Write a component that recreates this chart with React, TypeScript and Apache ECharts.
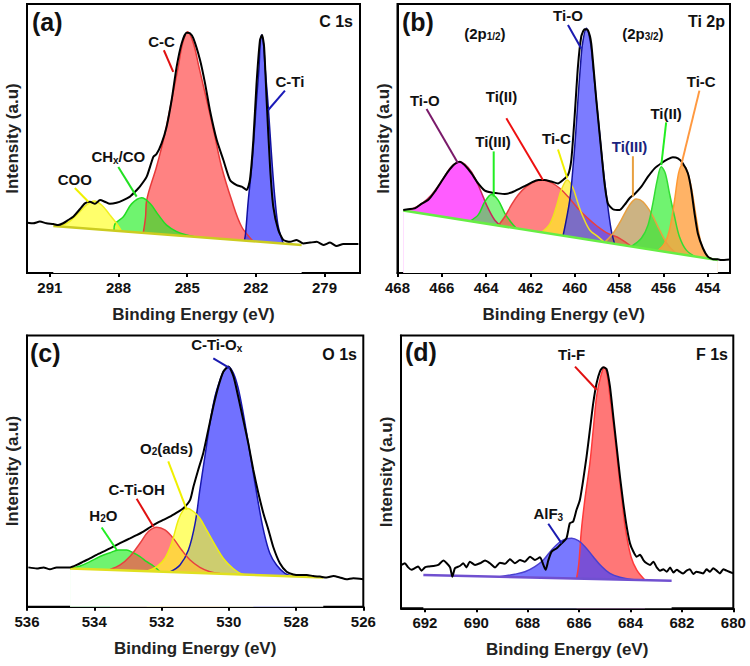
import React, { useEffect, useRef } from 'react';
import * as echarts from 'echarts';

type P = [number, number];
const FONT = '"Liberation Sans", Arial, sans-serif';

// ---------- Panel (a) C 1s ----------
const aEnvelope: P[] = [[291.98,18.7],[291.73,18.5],[291.44,19.1],[291.15,18.5],[290.85,18.2],[290.64,17.8],[290.42,18.5],[290.20,19.7],[289.98,20.9],[289.69,23.7],[289.47,25.9],[289.25,26.5],[289.03,25.7],[288.81,27.1],[288.60,26.5],[288.38,25.7],[288.09,26.1],[287.79,27.1],[287.50,28.4],[287.28,30.2],[287.07,32.1],[286.77,35.8],[286.48,43.2],[286.34,44.2],[286.12,48.2],[285.90,54.4],[285.68,64.3],[285.46,76.7],[285.24,85.4],[285.03,89.3],[284.88,89.1],[284.73,87.2],[284.44,79.2],[284.22,70.5],[284.01,60.6],[283.71,49.4],[283.42,42.0],[283.13,34.6],[282.84,32.7],[282.62,32.1],[282.40,30.9],[282.26,34.6],[282.11,49.4],[281.97,70.5],[281.82,86.6],[281.73,88.5],[281.64,84.1],[281.53,64.3],[281.38,39.5],[281.24,24.7],[281.02,16.0],[280.80,12.3],[280.51,11.6],[280.22,12.3],[279.93,11.0],[279.63,11.3],[279.34,11.6],[279.05,10.4],[278.76,11.3],[278.47,10.0],[278.18,10.8],[277.89,10.8],[277.52,10.8]];
const aBaseline: P[] = [[290.85,17.5],[280.0,10.4]];
const aCOO: P[] = [[290.78,17.5],[290.27,18.5],[289.83,21.6],[289.40,25.3],[289.06,26.8],[288.74,25.3],[288.38,21.6],[288.09,18.5],[287.87,15.6]];
const aCHx: P[] = [[288.2,15.9],[288.16,18.2],[287.79,20.9],[287.43,25.7],[286.99,28.0],[286.63,25.9],[286.26,21.6],[285.90,17.8],[285.46,15.4],[285.03,14.1],[284.7,13.5]];
const aCC: P[] = [[286.92,14.9],[286.82,20.9],[286.77,27.1],[286.34,39.5],[285.97,51.9],[285.68,64.3],[285.39,76.7],[285.20,85.4],[284.98,89.7],[284.73,85.4],[284.49,76.7],[284.15,64.3],[283.82,51.9],[283.50,39.5],[283.06,27.1],[282.62,17.2],[282.11,11.8]];
const aCTi: P[] = [[282.5,12.0],[282.45,14.7],[282.33,27.1],[282.18,39.5],[282.07,51.9],[281.97,64.3],[281.86,76.7],[281.81,85.4],[281.75,88.5],[281.67,85.4],[281.60,76.7],[281.48,64.3],[281.38,51.9],[281.28,39.5],[281.16,27.1],[281.02,17.2],[280.80,10.9]];

// ---------- Panel (b) Ti 2p ----------
const bEnvelope: P[] = [[467.74,23.4],[467.52,23.7],[467.22,24.0],[466.92,25.7],[466.62,27.1],[466.32,30.2],[466.02,34.0],[465.72,37.7],[465.42,40.5],[465.19,41.4],[464.97,40.1],[464.67,37.1],[464.36,33.3],[464.06,30.6],[463.76,29.9],[463.46,29.6],[463.16,29.4],[462.86,29.9],[462.56,31.1],[462.26,32.3],[461.96,33.6],[461.66,34.6],[461.36,34.6],[461.06,34.0],[460.76,33.3],[460.53,34.6],[460.31,36.4],[460.16,42.0],[460.01,58.1],[459.86,76.7],[459.71,87.9],[459.56,90.6],[459.41,90.3],[459.26,85.4],[459.03,64.3],[458.81,45.7],[458.66,33.3],[458.51,25.9],[458.28,23.7],[457.98,23.4],[457.76,25.3],[457.53,27.8],[457.30,29.4],[457.00,32.1],[456.70,35.8],[456.40,38.9],[456.10,40.8],[455.80,42.3],[455.58,43.0],[455.35,42.6],[455.13,40.8],[454.90,37.1],[454.75,31.1],[454.60,22.2],[454.45,14.7],[454.22,9.2],[454.00,6.1],[453.77,5.1],[453.55,5.1],[453.40,4.8],[453.02,5.0]];
const bBaseline: P[] = [[467.74,23.2],[453.55,4.8]];
const bTiO1: P[] = [[467.74,23.2],[467.37,23.7],[466.92,25.7],[466.47,29.0],[466.02,34.0],[465.64,38.9],[465.34,41.0],[465.19,41.4],[464.97,40.5],[464.67,37.7],[464.36,32.7],[464.14,28.4],[463.91,24.0],[463.6,19.5],[463.3,17.3]];
const bTi3a: P[] = [[464.74,19.3],[464.36,21.6],[464.06,26.5],[463.76,29.2],[463.46,27.1],[463.16,22.2],[462.86,18.7],[462.64,16.6]];
const bTi2a: P[] = [[463.46,17.6],[463.16,20.9],[462.86,25.3],[462.56,29.0],[462.19,32.1],[461.81,34.0],[461.44,34.6],[461.06,33.6],[460.68,31.5],[460.31,28.4],[459.86,24.0],[459.41,20.3],[458.96,17.2],[458.51,14.7],[457.98,12.9],[457.45,9.9]];
const bTiCa: P[] = [[461.51,15.1],[461.13,18.2],[460.83,24.7],[460.61,30.9],[460.34,34.6],[460.08,31.5],[459.86,25.9],[459.63,20.9],[459.33,16.0],[458.96,13.5],[458.66,11.4]];
const bTiO2: P[] = [[460.53,13.9],[460.23,27.1],[460.08,39.5],[459.96,51.9],[459.86,64.3],[459.75,76.7],[459.65,85.4],[459.48,91.0],[459.29,85.4],[459.18,76.7],[459.03,64.3],[458.88,51.9],[458.73,39.5],[458.55,27.1],[458.36,16.0],[458.21,10.9]];
const bTi3b: P[] = [[458.66,11.4],[458.28,14.7],[457.91,19.7],[457.53,25.3],[457.23,27.5],[456.93,26.5],[456.55,22.2],[456.18,16.0],[455.80,10.4],[455.43,7.3]];
const bTi2b: P[] = [[457.45,9.9],[457.00,12.9],[456.70,17.8],[456.48,25.9],[456.28,34.6],[456.10,39.5],[455.92,37.1],[455.73,29.6],[455.50,20.9],[455.28,13.5],[454.98,8.6],[454.60,6.2]];
const bTiCb: P[] = [[456.25,8.3],[455.95,11.0],[455.73,16.0],[455.50,27.1],[455.32,37.1],[455.17,40.1],[454.98,38.9],[454.75,32.1],[454.53,20.9],[454.30,11.0],[454.00,6.1],[453.55,4.8]];

// ---------- Panel (c) O 1s ----------
const cEnvelope: P[] = [[535.96,14.5],[535.71,14.1],[535.51,14.5],[535.32,13.8],[535.12,14.5],[534.92,14.5],[534.72,14.5],[534.52,15.4],[534.33,16.6],[534.13,17.8],[533.93,19.1],[533.73,20.3],[533.53,21.5],[533.33,22.8],[533.14,24.0],[532.94,25.2],[532.74,26.4],[532.54,27.7],[532.34,29.3],[532.14,30.8],[531.95,32.0],[531.75,33.2],[531.55,34.7],[531.35,36.3],[531.15,39.4],[531.05,44.3],[530.91,50.4],[530.76,56.6],[530.61,65.2],[530.46,73.8],[530.31,81.2],[530.16,86.7],[530.01,88.6],[529.86,84.9],[529.72,77.5],[529.57,68.9],[529.42,60.3],[529.27,50.4],[529.12,41.8],[528.97,34.4],[528.82,28.3],[528.68,22.1],[528.48,16.0],[528.28,12.9],[528.08,11.9],[527.88,11.7],[527.68,11.7],[527.49,11.3],[527.29,11.1],[527.09,10.8],[526.89,11.3],[526.70,10.8],[526.50,10.1],[526.30,10.5],[526.0,10.1]];
const cBaseline: P[] = [[534.72,14.1],[527.19,10.8]];
const cH2O: P[] = [[534.72,14.1],[534.42,15.0],[534.13,16.6],[533.83,18.5],[533.53,19.9],[533.28,20.9],[533.04,20.9],[532.84,19.9],[532.64,18.5],[532.44,16.6],[532.24,15.0],[532.05,13.0]];
const cOH: P[] = [[533.53,13.7],[533.23,15.4],[532.94,18.5],[532.64,23.4],[532.39,27.7],[532.14,29.3],[531.90,28.3],[531.65,25.2],[531.40,20.9],[531.15,17.2],[530.86,14.5],[530.56,12.9],[530.26,12.2]];
const cO2: P[] = [[532.44,13.1],[532.14,14.8],[531.90,17.8],[531.70,23.4],[531.50,32.0],[531.35,35.7],[531.25,36.3],[531.05,35.1],[530.86,32.6],[530.66,28.3],[530.41,22.8],[530.16,17.8],[529.87,14.1],[529.57,11.9],[529.27,11.6]];
const cOx: P[] = [[531.75,12.8],[531.45,15.4],[531.20,20.9],[531.0,30.8],[530.86,43.1],[530.71,55.4],[530.56,67.7],[530.41,77.5],[530.26,83.6],[530.14,87.1],[530.01,88.3],[529.86,86.1],[529.72,80.6],[529.57,71.3],[529.42,60.3],[529.27,49.2],[529.12,38.1],[528.97,28.3],[528.78,19.7],[528.58,15.4],[528.33,12.3],[528.08,11.2]];

// ---------- Panel (d) F 1s ----------
const dEnvelope: P[] = [[692.91,15.9],[692.78,16.5],[692.65,15.0],[692.52,14.1],[692.39,14.7],[692.26,15.3],[692.13,13.8],[692.00,15.0],[691.87,15.3],[691.67,15.5],[691.48,15.9],[691.28,17.5],[691.15,16.5],[691.02,15.0],[690.93,11.6],[690.83,14.7],[690.64,15.5],[690.51,16.5],[690.38,15.0],[690.25,17.1],[690.05,15.9],[689.86,16.5],[689.66,17.5],[689.47,16.5],[689.27,15.0],[689.08,16.7],[688.88,16.3],[688.69,18.0],[688.50,16.5],[688.30,17.7],[688.11,17.1],[687.91,18.9],[687.72,17.7],[687.52,18.7],[687.39,15.9],[687.30,14.1],[687.20,17.5],[687.07,20.8],[686.87,22.0],[686.68,23.8],[686.49,25.7],[686.36,31.2],[686.23,31.8],[686.10,36.1],[685.97,39.7],[685.84,47.1],[685.71,55.6],[685.58,65.4],[685.45,75.2],[685.32,82.5],[685.19,86.8],[685.06,88.4],[684.93,87.7],[684.80,81.3],[684.67,70.3],[684.54,59.3],[684.41,48.3],[684.28,38.5],[684.15,30.0],[684.02,23.8],[683.89,20.8],[683.76,18.9],[683.63,19.6],[683.50,17.7],[683.37,16.5],[683.24,15.9],[683.11,17.1],[682.98,15.0],[682.85,13.8],[682.72,14.3],[682.59,13.4],[682.46,15.0],[682.33,13.1],[682.20,14.1],[682.08,13.4],[681.95,12.8],[681.82,13.8],[681.69,14.3],[681.56,12.6],[681.43,13.4],[681.30,13.1],[681.17,12.8],[681.04,14.3],[680.91,13.4],[680.78,14.7],[680.65,13.8],[680.52,12.8],[680.39,14.3],[680.26,13.8],[680.0,12.8]];
const dBaseline: P[] = [[692.06,12.2],[682.40,10.1]];
const dAlF3: P[] = [[689.08,11.6],[688.50,12.5],[688.11,13.4],[687.72,15.3],[687.39,17.7],[687.07,21.4],[686.74,24.4],[686.49,25.5],[686.29,25.7],[686.03,24.8],[685.77,22.6],[685.45,18.9],[685.12,15.3],[684.80,12.8],[684.41,11.4],[683.96,10.6],[683.44,10.4]];
const dTiF: P[] = [[686.10,10.9],[686.01,16.5],[685.91,28.7],[685.76,41.0],[685.58,53.2],[685.45,65.4],[685.32,77.6],[685.16,85.0],[685.02,88.4],[684.90,85.0],[684.80,77.6],[684.64,65.4],[684.50,53.2],[684.35,41.0],[684.19,28.7],[683.98,18.9],[683.76,14.1],[683.44,10.4]];

// ---------- axes ----------
const xRanges: P[] = [[277.45, 292], [453, 468], [526, 536], [680, 692.93]];
const xTicks: number[][] = [
  [291, 288, 285, 282, 279],
  [468, 466, 464, 462, 460, 458, 456, 454],
  [536, 534, 532, 530, 528, 526],
  [692, 690, 688, 686, 684, 682, 680],
];
const panelLetters = ['(a)', '(b)', '(c)', '(d)'];
const panelTitles = ['C 1s', 'Ti 2p', 'O 1s', 'F 1s'];

type Ann = { text: string; at: P; from?: P; to?: P; color?: string; textColor?: string };
const aNotes: Ann[] = [
  { text: 'C-C', at: [286.12, 86.0], from: [286.02, 82.8], to: [285.61, 74.8], color: '#e01010' },
  { text: 'C-Ti', at: [280.51, 71.1], from: [280.73, 67.8], to: [281.46, 60.6], color: '#1a1ab8' },
  { text: 'COO', at: [289.91, 34.6], from: [289.91, 31.6], to: [289.32, 26.5], color: '#f0f000' },
  { text: 'CH{sub|x}/CO', at: [288.01, 43.2], from: [288.01, 39.4], to: [287.21, 28.4], color: '#22e022' },
];
const bNotes: Ann[] = [
  { text: '(2p{sub|1/2})', at: [464.06, 89.1] },
  { text: '(2p{sub|3/2})', at: [456.93, 89.1] },
  { text: 'Ti-O', at: [460.31, 95.9], from: [460.31, 92.2], to: [459.71, 83.5], color: '#1a1ab0' },
  { text: 'Ti-O', at: [466.77, 64.3], from: [466.69, 61.0], to: [465.27, 40.8], color: '#7a1a6a' },
  { text: 'Ti(III)', at: [463.69, 48.8], from: [463.66, 45.2], to: [463.66, 28.4], color: '#22ee22' },
  { text: 'Ti(II)', at: [463.31, 65.6], from: [463.09, 57.5], to: [461.44, 34.6], color: '#ee1010' },
  { text: 'Ti-C', at: [460.83, 50.1], from: [460.76, 45.9], to: [460.34, 35.2], color: '#f0f000' },
  { text: 'Ti(III)', at: [457.53, 47.0], from: [457.38, 43.4], to: [457.38, 28.4], color: '#e8a040', textColor: '#1a237e' },
  { text: 'Ti(II)', at: [455.88, 59.4], from: [455.88, 56.0], to: [456.10, 40.1], color: '#22ee22' },
  { text: 'Ti-C', at: [454.30, 71.1], from: [454.38, 67.8], to: [455.20, 40.1], color: '#ff9940' },
];
const cNotes: Ann[] = [
  { text: 'C-Ti-O{sub|x}', at: [530.36, 96.6], from: [530.46, 91.6], to: [529.96, 87.9], color: '#1a1ab0' },
  { text: 'O{sub|2}(ads)', at: [531.85, 58.4], from: [531.80, 53.6], to: [531.25, 35.7], color: '#f0f000' },
  { text: 'C-Ti-OH', at: [532.74, 43.1], from: [532.74, 39.8], to: [532.24, 29.5], color: '#e01010' },
  { text: 'H{sub|2}O', at: [533.73, 33.8], from: [533.78, 29.2], to: [533.33, 20.9], color: '#22ee22' },
];
const dNotes: Ann[] = [
  { text: 'Ti-F', at: [686.29, 92.9], from: [686.16, 88.6], to: [685.32, 80.1], color: '#e01010' },
  { text: 'AlF{sub|3}', at: [687.20, 34.6], from: [687.20, 31.0], to: [686.68, 23.8], color: '#1a1ab0' },
];

const grids = [
  { left: 27, top: 4, width: 333, height: 269 },
  { left: 397.5, top: 4, width: 332.5, height: 269 },
  { left: 27, top: 335.5, width: 336.3, height: 271.2 },
  { left: 401, top: 335.5, width: 332.3, height: 272.8 },
];

function peak(idx: number, data: P[], fill: string, edge: string, opacity: number) {
  return {
    type: 'line', xAxisIndex: idx, yAxisIndex: idx, data, smooth: 0.35, symbol: 'none', z: 2,
    lineStyle: { color: edge, width: 1.5 },
    areaStyle: { color: fill, opacity },
  };
}
function baseline(idx: number, data: P[], color: string) {
  return {
    type: 'line', xAxisIndex: idx, yAxisIndex: idx, data, symbol: 'none', z: 3,
    lineStyle: { color, width: 2.5 },
    areaStyle: { color: '#ffffff', opacity: 1 },
  };
}
function envelope(idx: number, data: P[]) {
  return {
    type: 'line', xAxisIndex: idx, yAxisIndex: idx, data, symbol: 'none', z: 4, smooth: 0.2,
    lineStyle: { color: '#000', width: 2 },
  };
}
function notes(idx: number, list: Ann[]) {
  return {
    type: 'custom', xAxisIndex: idx, yAxisIndex: idx, z: 10, silent: true,
    data: list.map((a) => a.at),
    renderItem: (params: any, api: any) => {
      const a = list[params.dataIndex];
      const t = api.coord(a.at);
      const children: any[] = [];
      if (a.from && a.to) {
        const p1 = api.coord(a.from);
        const p2 = api.coord(a.to);
        children.push({ type: 'line', shape: { x1: p1[0], y1: p1[1], x2: p2[0], y2: p2[1] }, style: { stroke: a.color, lineWidth: 2 } });
      }
      const tc = a.textColor || '#111';
      children.push({
        type: 'text', x: t[0], y: t[1],
        style: {
          text: a.text, fill: tc, fontSize: 15, fontWeight: 'bold', fontFamily: FONT, lineHeight: 17,
          align: 'center', verticalAlign: 'middle',
          rich: { sub: { fontSize: 10, fontWeight: 'bold', fontFamily: FONT, fill: tc, lineHeight: 5, verticalAlign: 'bottom' } },
        },
      });
      return { type: 'group', children };
    },
  };
}

export default function App() {
  const ref = useRef<HTMLDivElement>(null);
  useEffect(() => {
    if (!ref.current) return;
    const chart = echarts.init(ref.current, undefined, { renderer: 'svg' });
    const xAxis = xRanges.map((r, i) => ({
      type: 'value', gridIndex: i, inverse: true, min: r[0], max: r[1],
      axisLine: { show: true, lineStyle: { color: '#000', width: 2 } },
      axisTick: { show: true, inside: false, length: 4, lineStyle: { color: '#000', width: 2 }, customValues: xTicks[i] },
      axisLabel: { customValues: xTicks[i], margin: 7, fontSize: 15, fontWeight: 'bold', color: '#111', fontFamily: FONT },
      splitLine: { show: false },
      name: 'Binding Energy (eV)', nameLocation: 'middle', nameGap: 33,
      nameTextStyle: { fontSize: 17, fontWeight: 'bold', color: '#222', fontFamily: FONT },
    }));
    const yAxis = grids.map((_, i) => ({
      type: 'value', gridIndex: i, min: 0, max: 100,
      axisLine: { show: true, lineStyle: { color: '#000', width: 2 } },
      axisTick: { show: false }, axisLabel: { show: false }, splitLine: { show: false },
      name: 'Intensity (a.u)', nameLocation: 'middle', nameGap: 6, nameRotate: 90,
      nameTextStyle: { fontSize: 17, fontWeight: 'bold', color: '#222', fontFamily: FONT },
    }));
    const letterPos: P[] = [[32, 22], [402, 22], [30, 353], [405, 352]];
    const titlePos: P[] = [[353, 21], [725, 21], [357, 354], [728, 354]];
    const graphic: any[] = [];
    panelLetters.forEach((t, i) => {
      graphic.push({ type: 'text', x: letterPos[i][0], y: letterPos[i][1], z: 20,
        style: { text: t, fontSize: 25, fontWeight: 'bold', fontFamily: FONT, fill: '#111', align: 'left', verticalAlign: 'middle' } });
      graphic.push({ type: 'text', x: titlePos[i][0], y: titlePos[i][1], z: 20,
        style: { text: panelTitles[i], fontSize: 16, fontWeight: 'bold', fontFamily: FONT, fill: '#111', align: 'right', verticalAlign: 'middle' } });
    });
    const series: any[] = [
      // (a)
      peak(0, aCC, '#ff4d4d', '#e83a3a', 0.7),
      peak(0, aCHx, '#22ee22', '#22dd22', 0.65),
      peak(0, aCOO, '#ffff3a', '#f0f020', 0.75),
      peak(0, aCTi, '#3333ff', '#1010a0', 0.7),
      baseline(0, aBaseline, '#cccc20'),
      envelope(0, aEnvelope),
      notes(0, aNotes),
      // (b)
      peak(1, bTiO1, '#ff33ff', '#c8285a', 0.8),
      peak(1, bTi3a, '#33ee33', '#22dd22', 0.6),
      peak(1, bTi2a, '#ff4d4d', '#e84040', 0.7),
      peak(1, bTiCa, '#ffee22', '#f0e020', 0.7),
      peak(1, bTiO2, '#4444ff', '#15159a', 0.7),
      peak(1, bTi3b, '#b08a40', '#e8a040', 0.65),
      peak(1, bTi2b, '#33ee33', '#33dd33', 0.7),
      peak(1, bTiCb, '#ffa040', '#ff9933', 0.8),
      baseline(1, bBaseline, '#66ee44'),
      envelope(1, bEnvelope),
      notes(1, bNotes),
      // (c)
      peak(2, cOx, '#3a3aff', '#1818b0', 0.72),
      peak(2, cH2O, '#33ee33', '#22dd22', 0.7),
      peak(2, cOH, '#ff4d4d', '#e84040', 0.7),
      peak(2, cO2, '#ffff22', '#eeee10', 0.65),
      baseline(2, cBaseline, '#e0e020'),
      envelope(2, cEnvelope),
      notes(2, cNotes),
      // (d)
      peak(3, dTiF, '#ff5555', '#ff3a3a', 0.8),
      peak(3, dAlF3, '#4040ff', '#4a40d0', 0.7),
      baseline(3, dBaseline, '#7050d0'),
      envelope(3, dEnvelope),
      notes(3, dNotes),
    ];
    chart.setOption({
      animation: false,
      backgroundColor: '#ffffff',
      grid: grids.map((g) => ({ ...g, show: true, borderColor: '#000', borderWidth: 2, backgroundColor: 'transparent' })),
      xAxis, yAxis, series, graphic,
    });
    return () => chart.dispose();
  }, []);
  return <div ref={ref} style={{ position: 'absolute', left: 0, top: 0, width: 750, height: 666, background: '#fff' }} />;
}
